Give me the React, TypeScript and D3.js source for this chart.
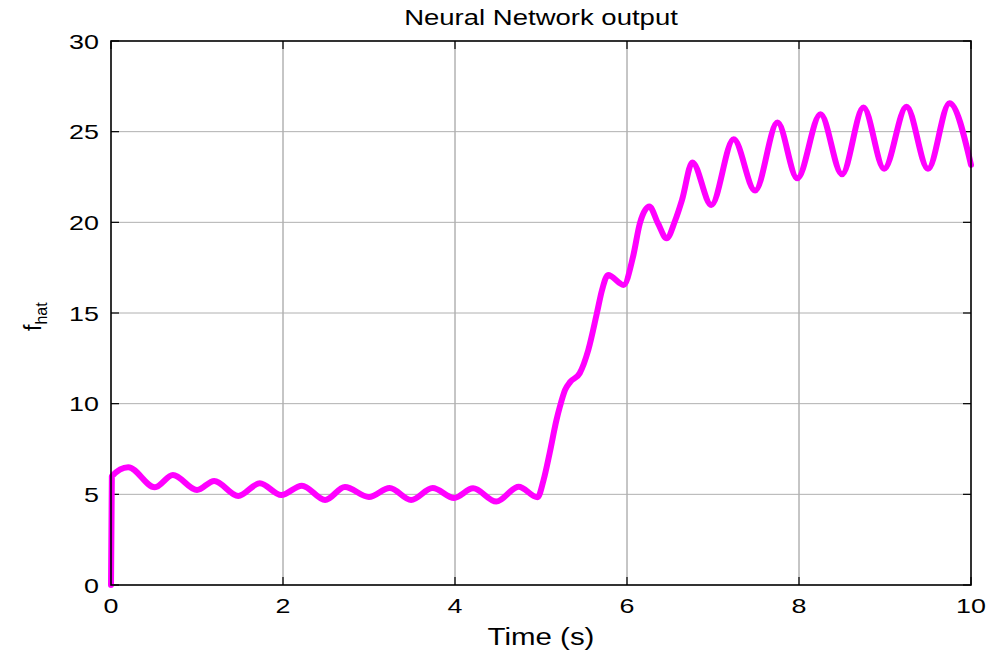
import React from "react";
import * as d3 from "d3";

// time (s) and network output
const timeS = [
  0, 0.01, 0.2, 0.51, 0.72, 1.0, 1.2, 1.48, 1.73, 1.98, 2.22, 2.49, 2.72, 3.0,
  3.24, 3.49, 3.74, 3.99, 4.21, 4.48, 4.74, 4.96, 5.03, 5.1, 5.18, 5.22, 5.28,
  5.34, 5.45, 5.55, 5.65, 5.71, 5.78, 5.96, 6.07, 6.15, 6.26, 6.36, 6.46, 6.56,
  6.64, 6.76, 6.98, 7.24, 7.49, 7.75, 7.98, 8.25, 8.5, 8.75, 8.99, 9.25, 9.5,
  9.75, 10.0,
];
const fHat = [
  0, 6.0, 6.5, 5.39, 6.07, 5.24, 5.74, 4.91, 5.61, 4.96, 5.48, 4.69, 5.4, 4.85,
  5.35, 4.69, 5.35, 4.8, 5.33, 4.6, 5.42, 4.84, 5.79, 7.26, 9.1, 9.84, 10.76,
  11.2, 11.68, 12.96, 14.99, 16.27, 17.1, 16.55, 18.1, 19.95, 20.87, 19.95,
  19.12, 20.1, 21.24, 23.3, 20.96, 24.58, 21.75, 25.5, 22.43, 25.96, 22.65,
  26.33, 22.95, 26.38, 22.95, 26.57, 23.17,
];
const xTicks = [0, 2, 4, 6, 8, 10];
const yTicks = [0, 5, 10, 15, 20, 25, 30];

const W = 989;
const H = 651;
const left = 111, right = 971, top = 41, bottom = 585;
const font = "'Liberation Sans', Arial, Helvetica, sans-serif";
const stretch = 1.28;

export default function App() {
  const x = d3.scaleLinear().domain([0, 10]).range([left, right]);
  const y = d3.scaleLinear().domain([0, 30]).range([bottom, top]);

  const pts: [number, number][] = timeS.map((t, i) => [t, fHat[i]]);
  const line = d3
    .line<[number, number]>()
    .x((d) => x(d[0]))
    .y((d) => y(d[1]))
    .curve(d3.curveMonotoneX);

  const tickLen = 8;

  return (
    <svg
      width={W}
      height={H}
      style={{ position: "absolute", left: 0, top: 0, background: "#fff" }}
    >
      <rect x={0} y={0} width={W} height={H} fill="#fff" />

      {/* grid */}
      {xTicks.slice(1, -1).map((t) => (
        <line key={"gx" + t} x1={x(t)} x2={x(t)} y1={top} y2={bottom} stroke="#8c8c8c" strokeWidth={1} />
      ))}
      {yTicks.slice(1, -1).map((t) => (
        <line key={"gy" + t} x1={left} x2={right} y1={y(t)} y2={y(t)} stroke="#b0b0b0" strokeWidth={1} />
      ))}

      {/* ticks, inward on all four sides */}
      {xTicks.map((t) => (
        <g key={"tx" + t} stroke="#000" strokeWidth={1.2}>
          <line x1={x(t)} x2={x(t)} y1={bottom} y2={bottom - tickLen} />
          <line x1={x(t)} x2={x(t)} y1={top} y2={top + tickLen} />
        </g>
      ))}
      {yTicks.map((t) => (
        <g key={"ty" + t} stroke="#000" strokeWidth={1.2}>
          <line x1={left} x2={left + tickLen} y1={y(t)} y2={y(t)} />
          <line x1={right} x2={right - tickLen} y1={y(t)} y2={y(t)} />
        </g>
      ))}

      {/* data */}
      <path
        d={line(pts) || ""}
        fill="none"
        stroke="#ff00ff"
        strokeWidth={6}
        strokeLinejoin="round"
        strokeLinecap="round"
      />

      {/* box */}
      <rect
        x={left}
        y={top}
        width={right - left}
        height={bottom - top}
        fill="none"
        stroke="#000"
        strokeWidth={1.6}
      />

      {/* tick labels */}
      {xTicks.map((t) => (
        <g key={"lx" + t} transform={`translate(${x(t)},${bottom + 28}) scale(${stretch},1)`}>
          <text textAnchor="middle" fontFamily={font} fontSize={21} fill="#000">
            {t}
          </text>
        </g>
      ))}
      {yTicks.map((t) => (
        <g key={"ly" + t} transform={`translate(${left - 12},${y(t) + 7.5}) scale(${stretch},1)`}>
          <text textAnchor="end" fontFamily={font} fontSize={21} fill="#000">
            {t}
          </text>
        </g>
      ))}

      {/* title */}
      <g transform={`translate(${(left + right) / 2},25) scale(${stretch},1)`}>
        <text textAnchor="middle" fontFamily={font} fontSize={21.5} fill="#000">
          Neural Network output
        </text>
      </g>

      {/* x label */}
      <g transform={`translate(${(left + right) / 2},645) scale(${stretch},1)`}>
        <text textAnchor="middle" fontFamily={font} fontSize={23} fill="#000">
          Time (s)
        </text>
      </g>

      {/* y label */}
      <g transform="translate(41,331) rotate(-90)">
        <text fontFamily={font} fontSize={23} fill="#000">
          f
          <tspan fontSize={16} dy={6}>
            hat
          </tspan>
        </text>
      </g>
    </svg>
  );
}
